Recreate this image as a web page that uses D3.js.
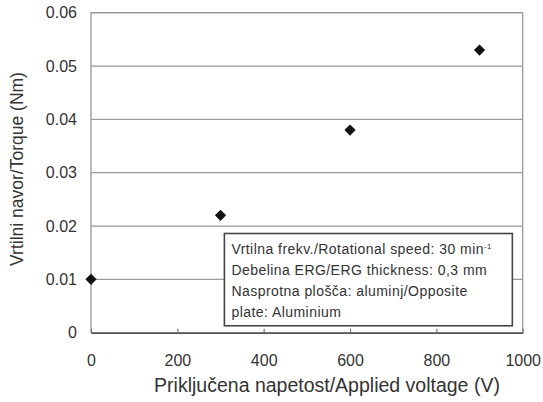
<!DOCTYPE html>
<html>
<head>
<meta charset="utf-8">
<script src="https://cdn.jsdelivr.net/npm/d3@7"></script>
<style>
  body { margin: 0; background: #fff; }
  text { font-family: "Liberation Sans", Arial, sans-serif; fill: #333; }
</style>
</head>
<body>
<div id="chart"></div>
<script>
// measured torque vs applied voltage
const voltage = [0, 300, 600, 900]
const torque = [0.01, 0.022, 0.038, 0.053]
const xTicks = [0, 200, 400, 600, 800, 1000]
const yTicks = [0, 0.01, 0.02, 0.03, 0.04, 0.05, 0.06]
const noteLines = [
  'Vrtilna frekv./Rotational speed: 30 min',
  'Debelina ERG/ERG thickness: 0,3 mm',
  'Nasprotna plošča: aluminj/Opposite',
  'plate: Aluminium'
]

const width = 543
const height = 402
const margin = {top: 12.7, right: 20.3, bottom: 69.3, left: 91}
const w = width - margin.left - margin.right
const h = height - margin.top - margin.bottom

const svg = d3.select('#chart')
  .append('svg')
  .attr('width', width)
  .attr('height', height)

const g = svg.append('g')
  .attr('transform', `translate(${margin.left},${margin.top})`)

const x = d3.scaleLinear().domain([0, 1000]).range([0, w])
const y = d3.scaleLinear().domain([0, 0.06]).range([h, 0])

// gridlines
g.append('g')
  .selectAll('line')
  .data(yTicks.slice(1))
  .enter()
  .append('line')
  .attr('x1', 0)
  .attr('x2', w)
  .attr('y1', d => y(d))
  .attr('y2', d => y(d))
  .style('stroke', '#9a9a9a')
  .style('stroke-width', 1.3)

// frame
g.append('rect')
  .attr('width', w)
  .attr('height', h)
  .style('fill', 'none')
  .style('stroke', '#9a9a9a')
  .style('stroke-width', 1.3)

// x axis: ticks point inward
const xAxis = g.append('g')
  .attr('transform', `translate(0,${h})`)
  .call(d3.axisBottom(x).tickValues(xTicks).tickSizeInner(-4).tickSizeOuter(0).tickPadding(21.5)
    .tickFormat(d3.format('d')))
xAxis.select('.domain').style('stroke', '#555').style('stroke-width', 1.5)
xAxis.selectAll('.tick line').style('stroke', '#777').style('stroke-width', 1.2)
xAxis.selectAll('text')
  .style('font-size', '16px')
  .style('fill', '#333')
  .style('font-family', '"Liberation Sans", Arial, sans-serif')

const yAxis = g.append('g')
  .call(d3.axisLeft(y).tickValues(yTicks).tickSize(0).tickPadding(14)
    .tickFormat(d => d === 0 ? '0' : d3.format('.2f')(d)))
yAxis.select('.domain').remove()
yAxis.selectAll('text')
  .style('font-size', '16px')
  .style('fill', '#333')
  .style('font-family', '"Liberation Sans", Arial, sans-serif')

// axis titles
svg.append('text')
  .attr('x', 327)
  .attr('y', 392)
  .attr('text-anchor', 'middle')
  .style('font-size', '19.5px')
  .text('Priključena napetost/Applied voltage (V)')

svg.append('text')
  .attr('transform', 'translate(23,169)rotate(-90)')
  .attr('text-anchor', 'middle')
  .style('font-size', '17.5px')
  .text('Vrtilni navor/Torque (Nm)')

// note box
const note = g.append('g')
  .attr('transform', `translate(${x(309)},${y(0.0186)})`)
note.append('rect')
  .attr('width', x(976) - x(309))
  .attr('height', y(0.0013) - y(0.0186))
  .style('fill', '#fff')
  .style('stroke', '#444')
  .style('stroke-width', 1.6)
note.selectAll('text')
  .data(noteLines)
  .enter()
  .append('text')
  .attr('x', 7)
  .attr('y', (d, i) => 20 + i * 21)
  .style('font-size', '14px')
  .style('letter-spacing', '0.45px')
  .text(d => d)
note.select('text')
  .append('tspan')
  .attr('dy', -5)
  .style('font-size', '8px')
  .text('-1')

// diamonds
g.append('g')
  .selectAll('path')
  .data(voltage)
  .enter()
  .append('path')
  .attr('d', d3.symbol().type(d3.symbolDiamond2).size(80))
  .attr('transform', (d, i) => `translate(${x(d)},${y(torque[i])})`)
  .style('fill', '#111')
</script>
</body>
</html>
